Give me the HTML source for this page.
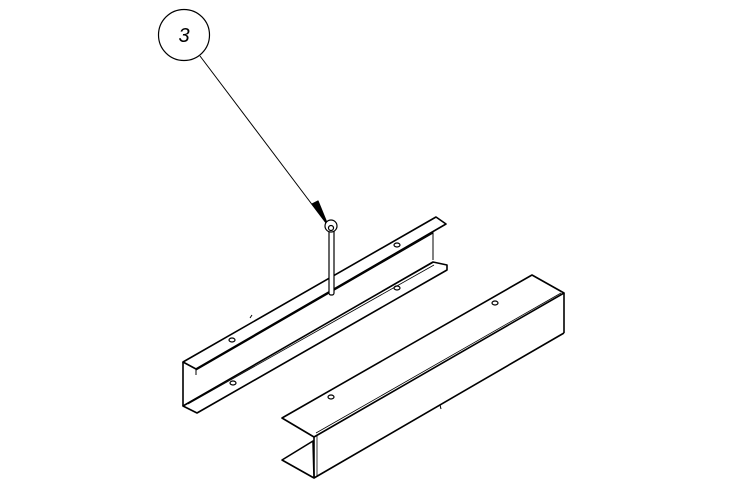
<!DOCTYPE html>
<html><head><meta charset="utf-8"><style>
html,body{margin:0;padding:0;background:#fff;width:747px;height:501px;overflow:hidden}
svg{display:block}
</style></head><body>
<svg width="747" height="501" viewBox="0 0 747 501" xmlns="http://www.w3.org/2000/svg" fill="none" stroke="#000" stroke-width="1.2" stroke-linejoin="round">
<g>
  <circle cx="184" cy="35" r="25.5"/>
  <text x="184" y="42" text-anchor="middle" font-family="Liberation Sans, sans-serif" font-style="italic" font-size="20" fill="#000" stroke="none">3</text>
  <line x1="200" y1="56" x2="326" y2="223" stroke-width="1"/>
  <polygon points="312,204 318,201 327,223" fill="#000"/>
</g>
<g>
  <polygon points="183,362 436,217 446,224 196,369" fill="#fff" stroke-width="1.6"/>
  <line x1="183" y1="362" x2="183" y2="406" stroke-width="1.6"/>
  <line x1="196" y1="369" x2="196" y2="375" stroke-width="1"/>
  <line x1="196" y1="370" x2="433" y2="233" stroke-width="1.2"/>
  <line x1="433" y1="232" x2="433" y2="260" stroke-width="1"/>
  <polygon points="183,406 433,262 447,265 447,270 197,413" fill="#fff" stroke-width="1.6"/>
  <line x1="186" y1="404" x2="434" y2="262" stroke-width="0.8"/>
  <line x1="188" y1="404" x2="434" y2="265" stroke-width="0.8"/>
  <line x1="250" y1="318" x2="252" y2="315" stroke-width="1"/>
  <ellipse cx="232" cy="340" rx="3" ry="2"/>
  <ellipse cx="397" cy="245" rx="3" ry="2"/>
  <ellipse cx="233" cy="383" rx="3" ry="2"/>
  <ellipse cx="397" cy="288" rx="3" ry="2"/>
</g>
<g>
  <rect x="329" y="229" width="5" height="66" rx="2" fill="#fff"/>
  <circle cx="331" cy="226" r="6" fill="#fff"/>
  <circle cx="331" cy="228" r="2.5"/>
</g>
<g>
  <polygon points="282,418 532,275 564,293 314,437" fill="#fff" stroke-width="1.6"/>
  <line x1="316" y1="433" x2="561" y2="293" stroke-width="0.8"/>
  <line x1="564" y1="293" x2="564" y2="333" stroke-width="1.6"/>
  <line x1="564" y1="333" x2="314" y2="478" stroke-width="1.6"/>
  <line x1="314" y1="437" x2="314" y2="478" stroke-width="1.6"/>
  <line x1="317" y1="436" x2="317" y2="476" stroke-width="0.8"/>
  <polygon points="282,460 313,441 314,478" fill="#fff" stroke-width="1.6"/>
  <line x1="440" y1="405" x2="441" y2="409" stroke-width="1"/>
  <ellipse cx="331" cy="397" rx="3" ry="2"/>
  <ellipse cx="495" cy="303" rx="3" ry="2"/>
</g>
</svg>
</body></html>
